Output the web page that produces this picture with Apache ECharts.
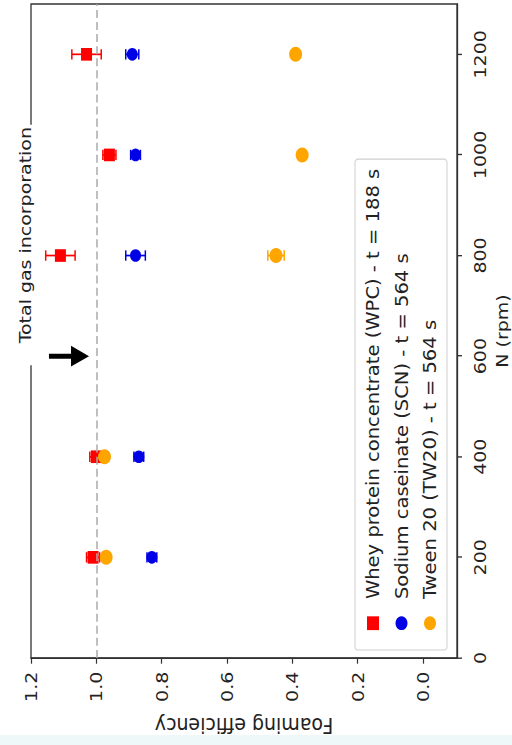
<!DOCTYPE html>
<html>
<head>
<meta charset="utf-8">
<script src="https://cdn.jsdelivr.net/npm/echarts@6/dist/echarts.min.js"></script>
<style>
  html, body { margin: 0; padding: 0; background: #fff; }
  #wrap { position: absolute; left: 0; top: 0; width: 512px; height: 745px; overflow: hidden; background: #fff; }
  #band { position: absolute; left: 0; top: 735px; width: 512px; height: 10px; background: #eef8f8; }
  #chart { position: absolute; left: 0; top: 0; width: 648px; height: 512px; transform-origin: 0 0; transform: matrix(0, -1.15, 1, 0, 0, 745); }
</style>
</head>
<body>
<div id="wrap"><div id="band"></div><div id="chart"></div></div>
<script>
// ---- data ----
const nValues = [200, 400, 800, 1000, 1200];
const wpcMean = [1.01, 1.00, 1.11, 0.96, 1.03];
const wpcErr  = [0.02, 0.02, 0.045, 0.02, 0.045];
const scnMean = [0.83, 0.87, 0.88, 0.88, 0.89];
const scnErr  = [0.015, 0.015, 0.03, 0.015, 0.02];
const tw20Mean = [0.97, 0.975, 0.45, 0.37, 0.39];
const tw20Err  = [0.01, 0.01, 0.025, 0.01, 0.01];
const seriesNames = [
  'Whey protein concentrate (WPC) - t = 188 s',
  'Sodium caseinate (SCN) - t = 564 s',
  'Tween 20 (TW20) - t = 564 s'
];
const nTicks = [0, 200, 400, 600, 800, 1000, 1200];
const effTicks = [0.0, 0.2, 0.4, 0.6, 0.8, 1.0, 1.2];
const referenceLevel = 1.0;
const arrowStart = [600, 1.145];
const arrowEnd = [600, 1.05];
const annotationText = 'Total gas incorporation';
const annotationPos = [821, 1.2];

// ---- chart ----
const K = 1.15;
const W0 = 745 / K;
const chart = echarts.init(document.getElementById('chart'), null, { renderer: 'svg', width: W0, height: 512 });

const colors = ['#ff0000', '#0000e6', '#ffa500'];
const squarePath = 'path://M0,0L10,0L10,10L0,10Z';
const symbols = [squarePath, 'circle', 'circle'];
const sizes = [11, 11, 13];
const means = [wpcMean, scnMean, tw20Mean];
const errs = [wpcErr, scnErr, tw20Err];

function errRender(color) {
  return function (params, api) {
    const x = api.value(0), y = api.value(1), e = api.value(2);
    const lo = api.coord([x, y - e]);
    const hi = api.coord([x, y + e]);
    const cap = 4.5;
    const style = { stroke: color, lineWidth: 1.5 };
    return {
      type: 'group',
      children: [
        { type: 'line', shape: { x1: lo[0], y1: lo[1], x2: hi[0], y2: hi[1] }, style },
        { type: 'line', shape: { x1: lo[0] - cap, y1: lo[1], x2: lo[0] + cap, y2: lo[1] }, style },
        { type: 'line', shape: { x1: hi[0] - cap, y1: hi[1], x2: hi[0] + cap, y2: hi[1] }, style }
      ]
    };
  };
}

const series = [];
for (let i = 0; i < 3; i++) {
  series.push({
    type: 'custom',
    name: seriesNames[i] + ' (error)',
    renderItem: errRender(colors[i]),
    itemStyle: { color: colors[i] },
    data: nValues.map((n, j) => [n, means[i][j], errs[i][j]]),
    z: 3 + i * 2,
    silent: true
  });
  series.push({
    type: 'scatter',
    name: seriesNames[i],
    symbol: symbols[i],
    symbolSize: sizes[i],
    symbolKeepAspect: true,
    itemStyle: { color: colors[i], opacity: 1 },
    data: nValues.map((n, j) => [n, means[i][j]]),
    z: 4 + i * 2
  });
}

// reference dashed line, arrow, annotation
series.push({
  type: 'scatter',
  data: [],
  silent: true,
  z: 2,
  markLine: {
    silent: true,
    symbol: 'none',
    label: { show: false },
    lineStyle: { color: '#aaaaaa', type: [7, 3.5], width: 1.5 },
    data: [{ yAxis: referenceLevel }]
  }
});
series.push({
  type: 'scatter',
  data: [],
  silent: true,
  z: 10,
  markLine: {
    silent: true,
    symbol: ['none', 'triangle'],
    symbolSize: 18,
    label: { show: false },
    lineStyle: { color: '#000', type: 'solid', width: 4.3 },
    itemStyle: { color: '#000' },
    data: [[{ coord: arrowStart }, { coord: arrowEnd }]]
  },
  markPoint: {
    silent: true,
    symbol: 'circle',
    symbolSize: 0,
    data: [{
      coord: annotationPos,
      label: {
        show: true,
        formatter: annotationText,
        position: 'inside',
        offset: [0, -6],
        fontSize: 16.5,
        color: '#222',
        backgroundColor: '#ffffff',
        padding: [1, 2, 1, 19]
      }
    }]
  }
});

const option = {
  animation: false,
  textStyle: { fontFamily: 'DejaVu Sans' },
  grid: { left: 75.7, right: 3.5, top: 31, bottom: 55, show: true, borderColor: '#333', borderWidth: 1.3, backgroundColor: 'transparent', containLabel: false, outerBoundsMode: 'none' },
  legend: {
    orient: 'vertical',
    left: 82.6,
    top: 355,
    padding: [9, 8, 8, 17.3],
    itemWidth: 32,
    itemHeight: 12,
    itemGap: 10.5,
    selectedMode: false,
    symbolKeepAspect: true,
    borderColor: '#d0d0d0',
    borderWidth: 1,
    borderRadius: 3,
    backgroundColor: 'rgba(255,255,255,0.85)',
    textStyle: { fontSize: 17, color: '#222', lineHeight: 18, fontFamily: 'DejaVu Sans' },
    data: [
      { name: seriesNames[0], icon: squarePath, itemStyle: { color: colors[0] } },
      { name: seriesNames[1], icon: 'circle', itemStyle: { color: colors[1] } },
      { name: seriesNames[2], icon: 'circle', itemStyle: { color: colors[2] } }
    ]
  },
  xAxis: {
    type: 'value',
    min: 0,
    max: 1300,
    name: 'N (rpm)',
    nameLocation: 'middle',
    nameGap: 33,
    nameTextStyle: { fontSize: 16.5, color: '#222', lineHeight: 18 },
    axisLine: { show: true, onZero: false, lineStyle: { color: '#333', width: 1.3 } },
    axisTick: { show: true, length: 5, customValues: nTicks, lineStyle: { color: '#333', width: 1.2 } },
    axisLabel: { customValues: nTicks, fontSize: 16.5, color: '#222', margin: 14, formatter: v => String(v) },
    splitLine: { show: false }
  },
  yAxis: {
    type: 'value',
    min: -0.104,
    max: 1.2,
    name: 'Foaming efficiency',
    nameLocation: 'middle',
    nameGap: 44,
    nameTextStyle: { fontSize: 19, color: '#222' },
    axisLine: { show: true, onZero: false, lineStyle: { color: '#333', width: 1.3 } },
    axisTick: { show: true, length: 5, customValues: effTicks, lineStyle: { color: '#333', width: 1.2 } },
    axisLabel: { customValues: effTicks, fontSize: 16.5, color: '#222', margin: 12, formatter: v => v.toFixed(1) },
    splitLine: { show: false }
  },
  series: series
};
chart.setOption(option);
</script>
</body>
</html>
